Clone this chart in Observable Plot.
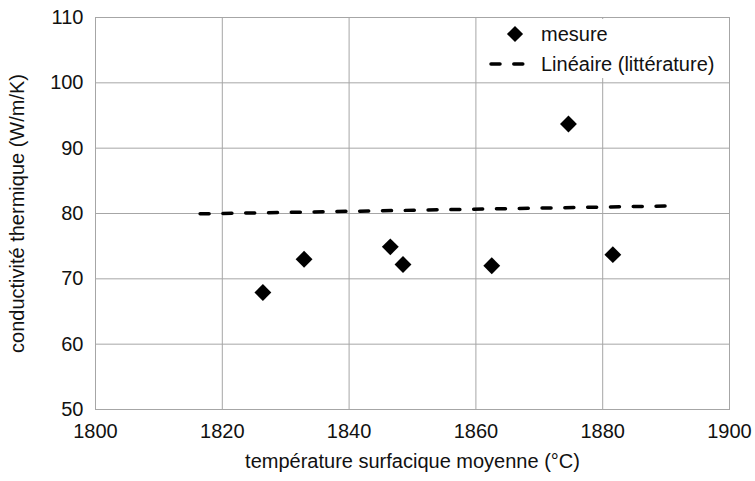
<!DOCTYPE html>
<html>
<head>
<meta charset="utf-8">
<script src="https://cdn.jsdelivr.net/npm/d3@7"></script>
<script src="https://cdn.jsdelivr.net/npm/@observablehq/plot@0.6"></script>
<style>
  html, body { margin: 0; padding: 0; background: #fff; }
  #chart { width: 755px; height: 481px; }
</style>
</head>
<body>
<div id="chart"></div>
<script>
// Measured points
const temperature = [1826.4, 1832.9, 1846.5, 1848.5, 1862.5, 1874.6, 1881.6];
const conductivite = [67.9, 73.0, 74.9, 72.2, 72.0, 93.7, 73.7];
// Literature linear law (end points)
const litTemp = [1816.5, 1890];
const litCond = [79.95, 81.15];
// Ticks
const xTicks = [1800, 1820, 1840, 1860, 1880, 1900];
const yTicks = [50, 60, 70, 80, 90, 100, 110];
const legendLabels = ["mesure", "Linéaire (littérature)"];
const xTitle = "température surfacique moyenne (°C)";
const yTitle = "conductivité thermique (W/m/K)";

const mesures = temperature.map((t, i) => ({t, k: conductivite[i]}));
const litterature = litTemp.map((t, i) => ({t, k: litCond[i]}));

const textColor = "#111";
const FONT = "'Liberation Sans', Arial, sans-serif";
const FS = 20;
const chart = Plot.plot({
  width: 755,
  height: 481,
  marginLeft: 95,
  marginRight: 26,
  marginTop: 17,
  marginBottom: 72,
  style: {fontFamily: FONT, fontSize: FS + "px", color: textColor, background: "#fff"},
  x: {domain: [1800, 1900], axis: null},
  y: {domain: [50, 110], axis: null},
  marks: [
    Plot.gridX(xTicks, {stroke: "#a6a6a6", strokeOpacity: 1, strokeWidth: 1}),
    Plot.gridY(yTicks, {stroke: "#a6a6a6", strokeOpacity: 1, strokeWidth: 1}),
    Plot.frame({stroke: "#a6a6a6", strokeWidth: 1}),
    Plot.line(litterature, {x: "t", y: "k", stroke: "#000", strokeWidth: 3.5, strokeDasharray: "9 13.8", strokeLinecap: "round"}),
    Plot.dot(mesures, {x: "t", y: "k", symbol: "diamond2", r: 7.6, fill: "#000", stroke: "none"}),
    Plot.text(xTicks, {x: d => d, frameAnchor: "bottom", dy: 28, text: d => String(d), fontSize: FS, fill: textColor}),
    Plot.text(yTicks, {y: d => d, frameAnchor: "left", dx: -12, textAnchor: "end", text: d => String(d), fontSize: FS, fill: textColor}),
    Plot.text([xTitle], {frameAnchor: "bottom", dy: 58, text: d => d, fontSize: FS, fill: textColor}),
    Plot.text([yTitle], {frameAnchor: "left", dx: -78, rotate: -90, textAnchor: "middle", text: d => d, fontSize: FS, fill: textColor})
  ]
});
document.getElementById("chart").appendChild(chart);

// Legend (inside the plot area, top right, like the original)
const svg = d3.select(chart);
const lg = svg.append("g").attr("font-family", FONT).attr("font-size", FS).attr("fill", textColor).attr("text-anchor", "start");
lg.append("rect").attr("x", 479).attr("y", 19).attr("width", 248).attr("height", 59).attr("fill", "#fff");
lg.append("path").attr("d", d3.symbol(d3.symbolDiamond2, Math.PI * 7.3 * 7.3)()).attr("transform", "translate(515,34)").attr("fill", "#000");
lg.append("text").attr("x", 541).attr("y", 34).attr("dy", "0.35em").text(legendLabels[0]);
lg.append("line").attr("x1", 491).attr("x2", 527).attr("y1", 64).attr("y2", 64)
  .attr("stroke", "#000").attr("stroke-width", 3.5).attr("stroke-dasharray", "9 13.8").attr("stroke-linecap", "round");
lg.append("text").attr("x", 541).attr("y", 64).attr("dy", "0.35em").text(legendLabels[1]);
</script>
</body>
</html>
